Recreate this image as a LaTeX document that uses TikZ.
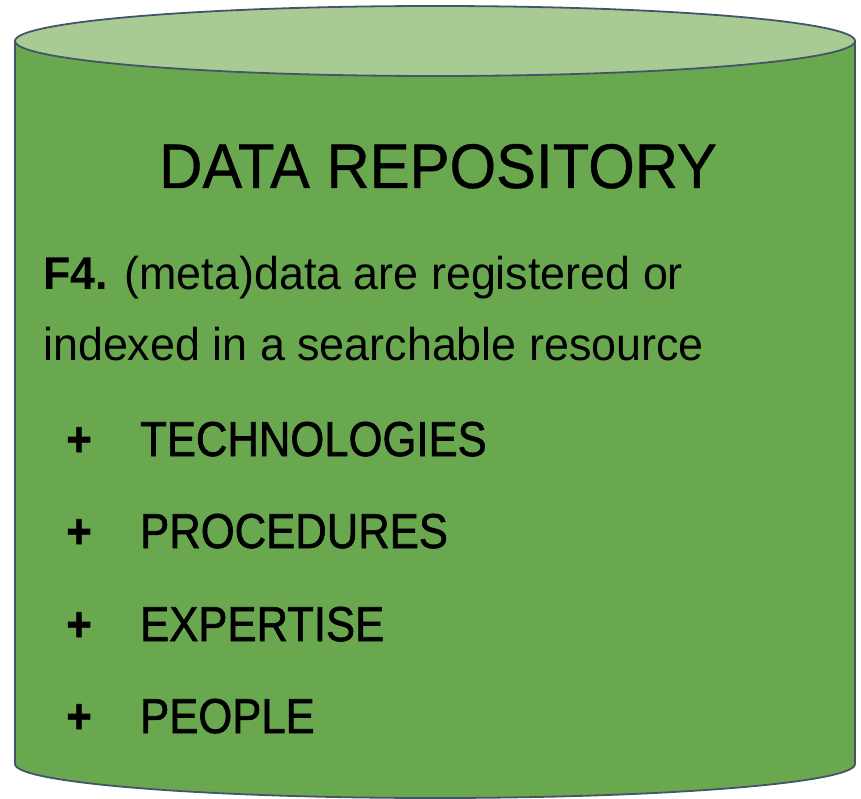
\documentclass[tikz,border=0pt]{standalone}
\usepackage{fontspec}
\setmainfont{Liberation Sans}
\newfontfamily\titlefont[FakeStretch=0.95,FakeBold=0.6]{Liberation Sans}
\newfontfamily\bodyfont[FakeStretch=0.975]{Liberation Sans}
\newfontfamily\listfont[FakeStretch=0.89,FakeBold=1.3]{Liberation Sans}
\definecolor{bodygreen}{HTML}{6AA84F}
\definecolor{topgreen}{HTML}{A8CB93}
\definecolor{edge}{HTML}{44546A}
\tikzset{
  cyl/.style={draw=edge, line width=1.8pt},
  titletext/.style={inner sep=0pt, anchor=base, font=\titlefont\fontsize{63}{70}\selectfont},
  bodytext/.style={inner sep=0pt, anchor=base west, font=\bodyfont\fontsize{46}{50}\selectfont},
  listtext/.style={inner sep=0pt, anchor=base west, font=\listfont\fontsize{49}{54}\selectfont},
  plus/.style={inner sep=0pt, anchor=base, font=\listfont\bfseries\fontsize{49}{54}\selectfont}
}
\begin{document}
\begin{tikzpicture}[x=1pt,y=-1pt]
\useasboundingbox (0,0) rectangle (861,799);
\path[cyl, fill=bodygreen] (15,41) -- (15,764) arc[start angle=180,end angle=0,x radius=420,y radius=34] -- (855,41) -- cycle;
\draw[cyl, fill=topgreen] (435,41) ellipse [x radius=420, y radius=35];
\node[titletext] (title) at (438,188) {DATA REPOSITORY};
\node[bodytext] (l1) at (43,290) {\textbf{F4.} (meta)data are registered or};
\node[bodytext] (l2) at (43,360) {indexed in a searchable resource};
\node[plus] (p1) at (79,456) {+};
\node[listtext] (t1) at (140,456) {TECHNOLOGIES};
\node[plus] (p2) at (79,548) {+};
\node[listtext] (t2) at (140,548) {PROCEDURES};
\node[plus] (p3) at (79,641) {+};
\node[listtext] (t3) at (140,641) {EXPERTISE};
\node[plus] (p4) at (79,733) {+};
\node[listtext] (t4) at (140,733) {PEOPLE};
\end{tikzpicture}
\end{document}
